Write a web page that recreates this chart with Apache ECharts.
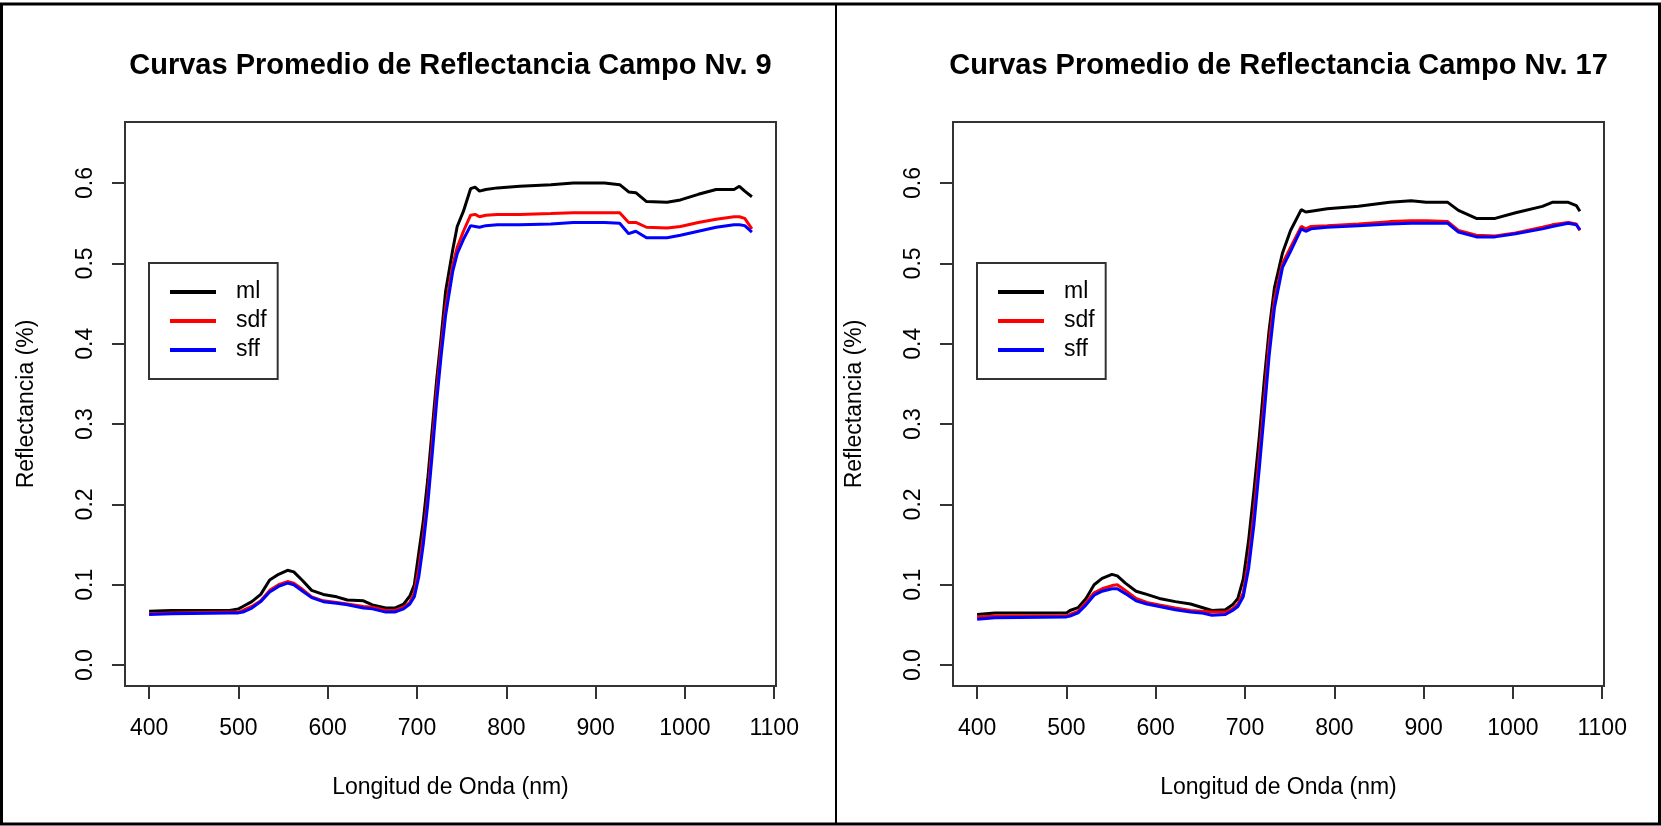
<!DOCTYPE html>
<html>
<head>
<meta charset="utf-8">
<script src="https://cdn.jsdelivr.net/npm/echarts@6/dist/echarts.min.js"></script>
<style>
  html, body { margin: 0; padding: 0; background: #ffffff; }
  #chart { width: 1661px; height: 826px; }
</style>
</head>
<body>
<div id="chart"></div>
<script>
// Panel titles and axis titles
const panelTitles = ['Curvas Promedio de Reflectancia Campo Nv. 9', 'Curvas Promedio de Reflectancia Campo Nv. 17'];
const xTitle = 'Longitud de Onda (nm)';
const yTitle = 'Reflectancia (%)';

// Series names and colours
const seriesNames = ['ml', 'sdf', 'sff'];
const seriesColors = ['#000000', '#ff0000', '#0000ff'];

// Tick values
const xTicks = [400, 500, 600, 700, 800, 900, 1000, 1100];
const yTicks = [0.0, 0.1, 0.2, 0.3, 0.4, 0.5, 0.6];

// Field 9: wavelengths (nm) and mean reflectance
const wl9 = [400, 425, 490, 500, 505, 515, 525, 535, 545, 555, 562, 572, 582, 595, 610, 622, 640, 650, 665, 675, 685, 692, 697, 702, 707, 712, 717, 722, 727, 732, 740, 745, 752, 760, 765, 770, 777, 790, 815, 850, 875, 910, 927, 937, 945, 957, 980, 995, 1015, 1035, 1055, 1061, 1067, 1075];
const ml9  = [0.067, 0.068, 0.068, 0.070, 0.073, 0.079, 0.088, 0.106, 0.113, 0.118, 0.116, 0.105, 0.093, 0.088, 0.085, 0.081, 0.080, 0.075, 0.071, 0.071, 0.076, 0.086, 0.100, 0.140, 0.179, 0.231, 0.293, 0.355, 0.408, 0.465, 0.517, 0.546, 0.565, 0.593, 0.595, 0.590, 0.592, 0.594, 0.596, 0.598, 0.600, 0.600, 0.598, 0.589, 0.588, 0.577, 0.576, 0.579, 0.586, 0.592, 0.592, 0.596, 0.590, 0.583];
const sdf9 = [0.064, 0.065, 0.066, 0.066, 0.068, 0.073, 0.080, 0.093, 0.100, 0.104, 0.102, 0.094, 0.085, 0.080, 0.078, 0.076, 0.073, 0.072, 0.068, 0.068, 0.072, 0.078, 0.090, 0.120, 0.160, 0.210, 0.275, 0.340, 0.395, 0.445, 0.498, 0.520, 0.540, 0.560, 0.561, 0.558, 0.560, 0.561, 0.561, 0.562, 0.563, 0.563, 0.563, 0.551, 0.551, 0.545, 0.544, 0.546, 0.551, 0.555, 0.558, 0.558, 0.556, 0.543];
const sff9 = [0.063, 0.064, 0.065, 0.065, 0.066, 0.071, 0.079, 0.091, 0.098, 0.102, 0.100, 0.092, 0.084, 0.079, 0.077, 0.075, 0.071, 0.070, 0.066, 0.066, 0.070, 0.076, 0.085, 0.110, 0.150, 0.200, 0.262, 0.328, 0.385, 0.435, 0.490, 0.512, 0.530, 0.547, 0.546, 0.545, 0.547, 0.548, 0.548, 0.549, 0.551, 0.551, 0.550, 0.537, 0.540, 0.532, 0.532, 0.535, 0.540, 0.545, 0.548, 0.548, 0.547, 0.539];

// Field 17: wavelengths (nm) and mean reflectance
const wl17 = [400, 420, 500, 504, 513, 522, 531, 540, 551, 557, 566, 578, 590, 604, 622, 639, 651, 663, 678, 686, 692, 698, 704, 710, 716, 722, 727, 733, 742, 751, 763, 768, 774, 792, 827, 862, 886, 903, 927, 939, 959, 980, 1003, 1033, 1044, 1062, 1071, 1075];
const ml17  = [0.063, 0.065, 0.065, 0.068, 0.0715, 0.083, 0.100, 0.108, 0.113, 0.111, 0.102, 0.092, 0.088, 0.083, 0.079, 0.076, 0.072, 0.068, 0.069, 0.075, 0.083, 0.107, 0.155, 0.217, 0.284, 0.360, 0.417, 0.470, 0.513, 0.541, 0.567, 0.564, 0.565, 0.568, 0.571, 0.576, 0.578, 0.576, 0.576, 0.566, 0.556, 0.556, 0.563, 0.571, 0.576, 0.576, 0.572, 0.565];
const sdf17 = [0.060, 0.061, 0.061, 0.063, 0.067, 0.078, 0.090, 0.095, 0.099, 0.100, 0.093, 0.083, 0.078, 0.075, 0.071, 0.068, 0.067, 0.066, 0.066, 0.070, 0.076, 0.090, 0.130, 0.190, 0.260, 0.335, 0.400, 0.455, 0.500, 0.520, 0.546, 0.543, 0.546, 0.547, 0.549, 0.552, 0.553, 0.553, 0.552, 0.541, 0.535, 0.534, 0.538, 0.545, 0.548, 0.551, 0.549, 0.541];
const sff17 = [0.057, 0.059, 0.060, 0.061, 0.065, 0.075, 0.087, 0.092, 0.095, 0.095, 0.089, 0.080, 0.076, 0.073, 0.069, 0.066, 0.065, 0.062, 0.063, 0.068, 0.073, 0.085, 0.120, 0.175, 0.245, 0.320, 0.385, 0.445, 0.495, 0.515, 0.543, 0.540, 0.543, 0.545, 0.547, 0.549, 0.550, 0.550, 0.550, 0.539, 0.533, 0.533, 0.537, 0.543, 0.546, 0.550, 0.548, 0.542];

const panels = [
  { wl: wl9,  values: [ml9, sdf9, sff9] },
  { wl: wl17, values: [ml17, sdf17, sff17] }
];

// Plot-region geometry (pixels) for each panel
const boxes = [
  { left: 125, top: 122, width: 651, height: 564 },
  { left: 953, top: 122, width: 651, height: 564 }
];

// Data ranges padded by 4% on each side
const xMin = 400 - 0.04 * 675, xMax = 1075 + 0.04 * 675;
const yMin = 0 - 0.04 * 0.65, yMax = 0.65 + 0.04 * 0.65;

const FONT = '"Liberation Sans", Arial, Helvetica, sans-serif';
const BASE = 23;

const zip = (xs, ys) => xs.map((x, i) => [x, ys[i]]);

const grid = boxes.map(b => ({
  left: b.left, top: b.top, width: b.width, height: b.height,
  show: true, borderColor: '#333333', borderWidth: 2, backgroundColor: 'transparent',
  containLabel: false
}));

const xAxis = boxes.map((b, i) => ({
  type: 'value', gridIndex: i, min: xMin, max: xMax, position: 'bottom',
  axisLine: { show: false, onZero: false },
  splitLine: { show: false },
  axisTick: { show: true, length: 13, customValues: xTicks, lineStyle: { color: '#333333', width: 2 } },
  axisLabel: {
    show: true, customValues: xTicks, margin: 31,
    fontFamily: FONT, fontSize: BASE, color: '#000000', lineHeight: 23,
    formatter: v => String(Math.round(v))
  }
}));

const yAxis = boxes.map((b, i) => ({
  type: 'value', gridIndex: i, min: yMin, max: yMax, position: 'left',
  axisLine: { show: false, onZero: false },
  splitLine: { show: false },
  axisTick: { show: true, length: 13, customValues: yTicks, lineStyle: { color: '#333333', width: 2 } },
  axisLabel: {
    show: true, customValues: yTicks, margin: 28, rotate: 90,
    fontFamily: FONT, fontSize: BASE, color: '#000000', lineHeight: 23,
    formatter: v => Number(v).toFixed(1)
  }
}));

const series = [];
panels.forEach((p, gi) => {
  p.values.forEach((vals, si) => {
    series.push({
      type: 'line', name: seriesNames[si], xAxisIndex: gi, yAxisIndex: gi,
      data: zip(p.wl, vals), showSymbol: false, symbol: 'none', smooth: false,
      lineStyle: { color: seriesColors[si], width: 3 },
      itemStyle: { color: seriesColors[si] },
      silent: true, animation: false
    });
  });
});

const legend = boxes.map(b => ({
  data: seriesNames.map(n => ({ name: n, icon: 'rect' })),
  orient: 'vertical',
  left: b.left + 24, top: 263,
  itemWidth: 46, itemHeight: 4, itemGap: 1,
  padding: [15, 11, 15, 21],
  borderColor: '#333333', borderWidth: 2, backgroundColor: '#ffffff',
  selectedMode: false,
  textStyle: { fontFamily: FONT, fontSize: BASE, color: '#000000', lineHeight: 28, padding: [0, 0, 0, 15] }
}));

const graphics = [
  // outer frame and panel divider
  { type: 'rect', shape: { x: 1.5, y: 4, width: 1658, height: 820 }, style: { fill: 'none', stroke: '#000000', lineWidth: 3 }, silent: true },
  { type: 'line', shape: { x1: 836, y1: 4, x2: 836, y2: 824 }, style: { stroke: '#000000', lineWidth: 2 }, silent: true }
];
boxes.forEach((b, i) => {
  const cx = b.left + b.width / 2;
  const cy = b.top + b.height / 2;
  graphics.push({
    type: 'text', x: cx, y: 66, silent: true,
    style: { text: panelTitles[i], fontFamily: FONT, fontWeight: 'bold', fontSize: 29, fill: '#000000', align: 'center', verticalAlign: 'middle' }
  });
  graphics.push({
    type: 'text', x: cx, y: 788, silent: true,
    style: { text: xTitle, fontFamily: FONT, fontSize: BASE, fill: '#000000', align: 'center', verticalAlign: 'middle' }
  });
  graphics.push({
    type: 'text', x: b.left - 98, y: cy, rotation: Math.PI / 2, silent: true,
    style: { text: yTitle, fontFamily: FONT, fontSize: BASE, fill: '#000000', align: 'center', verticalAlign: 'middle' }
  });
});

const chart = echarts.init(document.getElementById('chart'), null, { renderer: 'canvas' });
chart.setOption({
  animation: false,
  backgroundColor: '#ffffff',
  grid, xAxis, yAxis, series, legend,
  graphic: graphics
});
</script>
</body>
</html>
